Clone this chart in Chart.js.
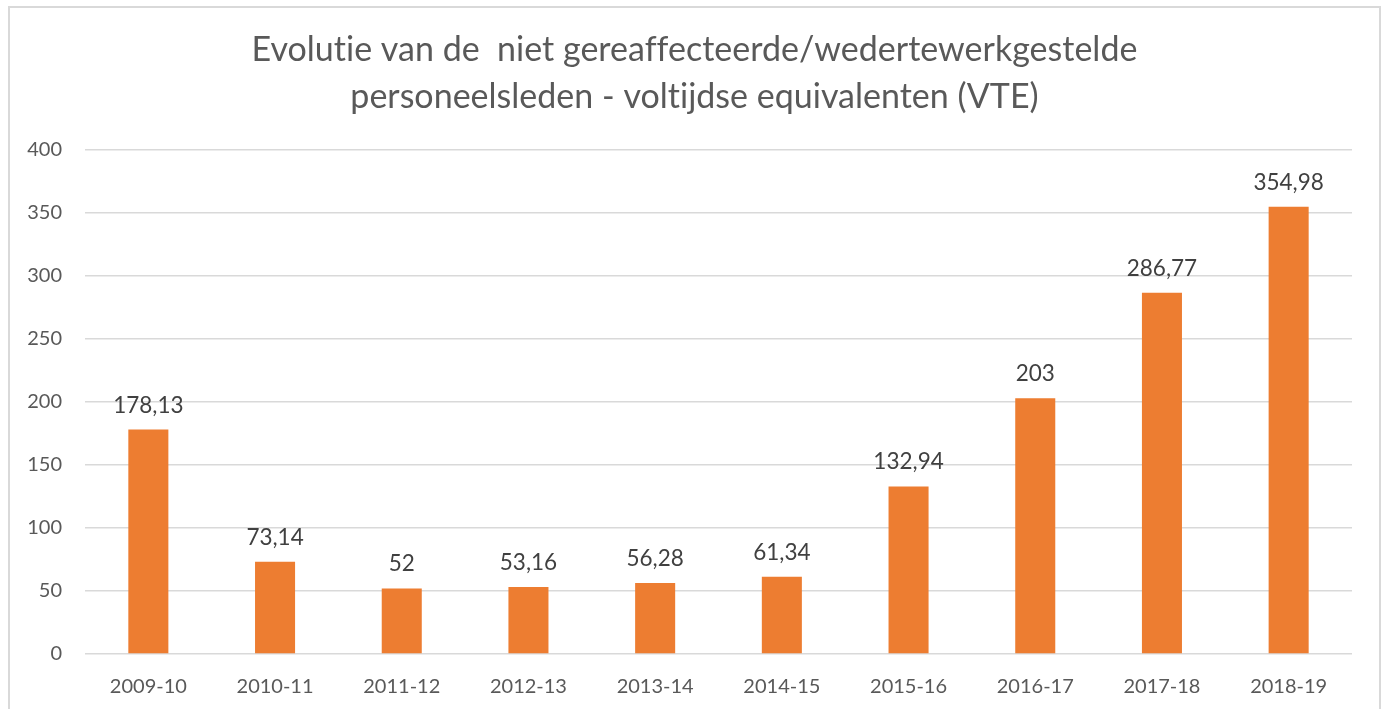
<!DOCTYPE html>
<html>
<head>
<meta charset="utf-8">
<script src="https://cdn.jsdelivr.net/npm/chart.js@4"></script>
<style>
  body { margin: 0; background: #fff; }
  #wrap { position: relative; width: 1383px; height: 709px; }
  #frame { position: absolute; left: 8px; top: 6px; width: 1369px; height: 720px;
           border: 2px solid #d9d9d9; pointer-events: none; }
</style>
</head>
<body>
<div id="wrap">
  <canvas id="myChart" width="1383" height="709"></canvas>
  <div id="frame"></div>
</div>
<script>
// data
const categories = ['2009-10', '2010-11', '2011-12', '2012-13', '2013-14', '2014-15', '2015-16', '2016-17', '2017-18', '2018-19']
const vteValues = [178.13, 73.14, 52, 53.16, 56.28, 61.34, 132.94, 203, 286.77, 354.98]
const yTicks = [0, 50, 100, 150, 200, 250, 300, 350, 400]
const titleLines = ['Evolutie van de  niet gereaffecteerde/wedertewerkgestelde', 'personeelsleden - voltijdse equivalenten (VTE)']

const fontName = 'Lato, "Open Sans", sans-serif'

// titel zelf tekenen, iets rechts van het midden zoals in het origineel
const titleText = {
    id: 'titleText',
    afterDraw(chart) {
        const ctx = chart.ctx
        ctx.save()
        ctx.letterSpacing = '0.01px' // geen "ti" ligatuur
        ctx.font = '34px ' + fontName
        ctx.fillStyle = '#595959'
        ctx.textAlign = 'center'
        ctx.textBaseline = 'middle'
        titleLines.forEach((line, i) => {
            ctx.fillText(line, chart.width / 2 + 3, 50 + i * 47)
        })
        ctx.restore()
    }
}

// waarde boven elke balk schrijven (komma als decimaalteken)
const barLabels = {
    id: 'barLabels',
    afterDatasetsDraw(chart) {
        const ctx = chart.ctx
        const meta = chart.getDatasetMeta(0)
        ctx.save()
        ctx.font = '22.5px ' + fontName
        ctx.fillStyle = '#404040'
        ctx.textAlign = 'center'
        ctx.textBaseline = 'bottom'
        meta.data.forEach((bar, i) => {
            const txt = String(vteValues[i]).replace('.', ',')
            ctx.fillText(txt, bar.x, bar.y - 13)
        })
        ctx.restore()
    }
}

const ctx = document.getElementById('myChart')
const chart = new Chart(ctx, {
    type: 'bar',
    data: {
        labels: categories,
        datasets: [{
            label: 'VTE',
            data: vteValues,
            backgroundColor: '#ED7D31',
            barPercentage: 1,
            categoryPercentage: 0.316,
        }]
    },
    options: {
        responsive: false,
        animation: false,
        layout: { padding: { left: 0, right: 31, top: 150, bottom: 0 } },
        plugins: {
            legend: { display: false },
            tooltip: { enabled: false },
            title: { display: false }
        },
        scales: {
            x: {
                grid: { display: false, drawTicks: false },
                border: { display: false },
                ticks: { color: '#595959', font: { family: fontName, size: 20 }, padding: 21 },
                afterFit: s => { s.height = 55 }
            },
            y: {
                min: 0,
                max: 400,
                afterBuildTicks: s => { s.ticks = yTicks.map(v => ({ value: v })) },
                grid: { color: '#d9d9d9', lineWidth: 1.5, drawTicks: false },
                border: { display: false },
                ticks: { color: '#595959', font: { family: fontName, size: 20 }, padding: 23 },
                afterFit: s => { s.width = 85 }
            }
        }
    },
    plugins: [titleText, barLabels]
})
</script>
</body>
</html>
